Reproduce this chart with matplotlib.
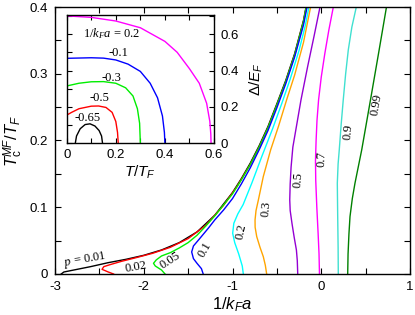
import matplotlib
matplotlib.use("Agg")
import matplotlib.pyplot as plt
from matplotlib.ticker import MultipleLocator, FormatStrFormatter

plt.rcParams['font.family'] = ['Liberation Sans', 'DejaVu Sans']
plt.rcParams['axes.unicode_minus'] = False
plt.rcParams['mathtext.fontset'] = 'custom'
plt.rcParams['mathtext.rm'] = 'Liberation Serif'
plt.rcParams['mathtext.it'] = 'Liberation Serif:italic'
plt.rcParams['mathtext.bf'] = 'Liberation Sans:italic'
plt.rcParams['mathtext.sf'] = 'Liberation Sans'

# ---------------- main panel data: contours of constant polarization p ----------------
p_labels = ['p = 0.01', '0.02', '0.05', '0.1', '0.2', '0.3', '0.5', '0.7', '0.9', '0.99']
colors = ['black', '#ff0000', '#00ee00', '#0000ff', '#00ffff', '#ffa500', '#9400d3', '#ff00ff', '#40e0d0', '#008000']

x_p001 = [-2.93, -2.90, -2.6, -2.4, -2.2, -2.0, -1.8, -1.6, -1.4, -1.2, -1.0, -0.9, -0.8, -0.7, -0.6, -0.5, -0.4, -0.3, -0.2, -0.15]
y_p001 = [0.0, 0.003, 0.011, 0.017, 0.022, 0.028, 0.036, 0.047, 0.063, 0.088, 0.122, 0.143, 0.166, 0.192, 0.221, 0.255, 0.29, 0.33, 0.38, 0.415]

x_p002 = [-2.34, -2.40, -2.47, -2.45, -2.38, -2.25, -2.1, -1.9, -1.7, -1.5, -1.3, -1.1, -0.95, -0.8, -0.7, -0.6, -0.5, -0.4, -0.3, -0.2, -0.15]
y_p002 = [0.0, 0.003, 0.007, 0.011, 0.014, 0.019, 0.024, 0.031, 0.040, 0.053, 0.073, 0.103, 0.131, 0.164, 0.190, 0.219, 0.253, 0.288, 0.328, 0.378, 0.413]

x_p005 = [-1.76, -1.80, -1.87, -1.89, -1.86, -1.80, -1.70, -1.6, -1.5, -1.4, -1.3, -1.2, -1.0, -0.9, -0.8, -0.7, -0.6, -0.5, -0.4, -0.3, -0.2, -0.15]
y_p005 = [0.0, 0.006, 0.012, 0.016, 0.021, 0.027, 0.032, 0.039, 0.047, 0.058, 0.072, 0.087, 0.120, 0.141, 0.164, 0.190, 0.219, 0.253, 0.288, 0.328, 0.378, 0.413]

x_p01 = [-1.33, -1.35, -1.40, -1.44, -1.46, -1.44, -1.37, -1.27, -1.2, -1.1, -1.0, -0.9, -0.8, -0.7, -0.6, -0.5, -0.4, -0.3, -0.2, -0.14]
y_p01 = [0.0, 0.008, 0.016, 0.023, 0.033, 0.042, 0.053, 0.069, 0.081, 0.096, 0.113, 0.135, 0.159, 0.186, 0.215, 0.249, 0.285, 0.325, 0.373, 0.413]

x_p02 = [-0.878, -0.89, -0.93, -0.975, -0.998, -0.985, -0.94, -0.88, -0.78, -0.67, -0.55, -0.446, -0.35, -0.25, -0.18, -0.12]
y_p02 = [0.0, 0.012, 0.03, 0.047, 0.061, 0.076, 0.090, 0.104, 0.137, 0.176, 0.217, 0.255, 0.292, 0.335, 0.372, 0.413]

x_p03 = [-0.615, -0.63, -0.653, -0.69, -0.727, -0.745, -0.746, -0.735, -0.71, -0.653, -0.57, -0.48, -0.39, -0.3, -0.2, -0.12, -0.09]
y_p03 = [0.0, 0.013, 0.026, 0.04, 0.056, 0.07, 0.081, 0.095, 0.11, 0.146, 0.186, 0.222, 0.261, 0.298, 0.347, 0.40, 0.415]

x_p05 = [-0.265, -0.27, -0.28, -0.305, -0.33, -0.35, -0.355, -0.35, -0.34, -0.32, -0.228, -0.153, -0.08, -0.014, 0.01]
y_p05 = [0.0, 0.02, 0.036, 0.055, 0.076, 0.095, 0.111, 0.135, 0.16, 0.19, 0.261, 0.311, 0.357, 0.40, 0.415]

x_p07 = [-0.02, -0.025, -0.035, -0.05, -0.062, -0.065, -0.058, -0.048, -0.03, 0.0, 0.04, 0.085, 0.136, 0.16]
y_p07 = [0.0, 0.03, 0.06, 0.10, 0.14, 0.17, 0.20, 0.23, 0.261, 0.295, 0.33, 0.365, 0.40, 0.415]

x_p09 = [0.192, 0.19, 0.185, 0.181, 0.19, 0.203, 0.225, 0.248, 0.275, 0.305, 0.345, 0.395, 0.42]
y_p09 = [0.0, 0.04, 0.09, 0.136, 0.165, 0.186, 0.225, 0.261, 0.30, 0.336, 0.37, 0.40, 0.413]

x_p099 = [0.298, 0.302, 0.312, 0.324, 0.35, 0.38, 0.456, 0.555, 0.645, 0.735, 0.755]
y_p099 = [0.0, 0.03, 0.06, 0.086, 0.113, 0.136, 0.186, 0.261, 0.33, 0.40, 0.415]

curves_x = [x_p001, x_p002, x_p005, x_p01, x_p02, x_p03, x_p05, x_p07, x_p09, x_p099]
curves_y = [y_p001, y_p002, y_p005, y_p01, y_p02, y_p03, y_p05, y_p07, y_p09, y_p099]

label_x = [-2.66, -2.09, -1.70, -1.31, -0.897, -0.62, -0.259, 0.005, 0.305, 0.624]
label_y = [0.021, 0.011, 0.0195, 0.036, 0.063, 0.098, 0.141, 0.173, 0.213, 0.253]
label_rot = [10, 10, 33, 60, 78, 85, 85, 88, 85, 80]

# ---------------- inset data: gap vs temperature ----------------
inset_labels = [r'$1/k_Fa$ = 0.2', '-0.1', '-0.3', '-0.5', '-0.65']
inset_colors = ['#ff00ff', '#0000ff', '#00ee00', '#ff0000', 'black']
T_a02 = [0.0, 0.1, 0.2, 0.3, 0.4, 0.45, 0.5, 0.54, 0.57, 0.583, 0.587, 0.588]
D_a02 = [0.70, 0.692, 0.672, 0.635, 0.56, 0.50, 0.41, 0.33, 0.22, 0.12, 0.05, 0.0]
T_m01 = [0.0, 0.1, 0.15, 0.2, 0.25, 0.3, 0.34, 0.37, 0.39, 0.398, 0.40]
D_m01 = [0.467, 0.47, 0.468, 0.458, 0.435, 0.395, 0.33, 0.25, 0.15, 0.06, 0.0]
T_m03 = [0.0, 0.05, 0.1, 0.15, 0.2, 0.24, 0.27, 0.288, 0.297, 0.30]
D_m03 = [0.315, 0.33, 0.338, 0.339, 0.33, 0.305, 0.26, 0.19, 0.11, 0.0]
T_m05 = [0.0, 0.02, 0.05, 0.1, 0.13, 0.16, 0.185, 0.2, 0.207, 0.21]
D_m05 = [0.155, 0.17, 0.19, 0.204, 0.205, 0.197, 0.17, 0.12, 0.06, 0.0]
T_m065 = [0.035, 0.04, 0.055, 0.075, 0.095, 0.115, 0.132, 0.142, 0.146]
D_m065 = [0.0, 0.04, 0.08, 0.103, 0.107, 0.095, 0.07, 0.04, 0.0]
inset_T = [T_a02, T_m01, T_m03, T_m05, T_m065]
inset_D = [D_a02, D_m01, D_m03, D_m05, D_m065]
inset_lx = [0.182, 0.209, 0.182, 0.135, 0.085]
inset_ly = [0.604, 0.495, 0.357, 0.247, 0.141]

fig = plt.figure(figsize=(4.15, 3.15), dpi=100)
ax = fig.add_axes([55/415, 41/315, 355/415, 267/315])

for xs, ys, c in zip(curves_x, curves_y, colors):
    ax.plot(xs, ys, color=c, lw=1.0)

for txt, lx, ly, r in zip(p_labels, label_x, label_y, label_rot):
    if txt.startswith('p'):
        txt = r'$p$ = 0.01'
    ax.text(lx, ly, txt, fontsize=9, family='Liberation Serif', rotation=r,
            ha='center', va='center', rotation_mode='anchor')

ax.set_xlim(-3, 1)
ax.set_ylim(0, 0.4)
ax.xaxis.set_major_locator(MultipleLocator(1))
ax.xaxis.set_minor_locator(MultipleLocator(0.5))
ax.yaxis.set_major_locator(MultipleLocator(0.1))
ax.yaxis.set_minor_locator(MultipleLocator(0.05))
ax.xaxis.set_major_formatter(FormatStrFormatter('%g'))
ax.yaxis.set_major_formatter(FormatStrFormatter('%g'))
ax.tick_params(which='both', direction='in', top=True, right=True, labelsize=9.5, width=0.8)
ax.tick_params(which='major', length=4, pad=5)
ax.tick_params(which='minor', length=4)
for s in ax.spines.values():
    s.set_linewidth(1.0)
ax.set_xlabel(r'$\mathsf{1/}\mathbf{k}_{\mathbf{F}}\mathbf{a}$', fontsize=12)
ax.xaxis.set_label_coords(0.5, -0.08)
ax.set_ylabel(r'$\mathbf{T}_{\mathsf{c}}^{\mathbf{MF}}\mathsf{/}\mathbf{T}_{\mathbf{F}}$', fontsize=12)
ax.yaxis.label.set_va('center')
ax.yaxis.set_label_coords(-0.118, 0.5)

# inset
ai = fig.add_axes([66.7/415, (315-143.3)/315, (214-66.7)/415, (143.3-15)/315])
for xs, ys, c in zip(inset_T, inset_D, inset_colors):
    ai.plot(xs, ys, color=c, lw=1.0)
for txt, lx, ly in zip(inset_labels, inset_lx, inset_ly):
    ai.text(lx, ly, txt, fontsize=9, family='Liberation Serif', ha='center', va='center')
ai.set_xlim(0, 0.6)
ai.set_ylim(0, 0.705)
ai.xaxis.set_major_locator(MultipleLocator(0.2))
ai.xaxis.set_minor_locator(MultipleLocator(0.1))
ai.yaxis.set_major_locator(MultipleLocator(0.2))
ai.yaxis.set_minor_locator(MultipleLocator(0.1))
ai.xaxis.set_major_formatter(FormatStrFormatter('%g'))
ai.yaxis.set_major_formatter(FormatStrFormatter('%g'))
ai.tick_params(which='both', direction='in', top=True, right=True, left=True,
               labelleft=False, labelright=True, labelsize=9.5, width=0.8, length=3.5)
ai.tick_params(axis='x', pad=4)
ai.tick_params(axis='y', pad=5)
for s in ai.spines.values():
    s.set_linewidth(1.0)
ai.set_xlabel(r'$\mathbf{T}\mathsf{/}\mathbf{T}_{\mathbf{F}}$', fontsize=11, labelpad=2)
ai.yaxis.set_label_position('right')
ai.set_ylabel(r'$\mathsf{\Delta/}\mathbf{E}_{\mathbf{F}}$', fontsize=11, labelpad=6)

fig.savefig('out.png', dpi=100)
